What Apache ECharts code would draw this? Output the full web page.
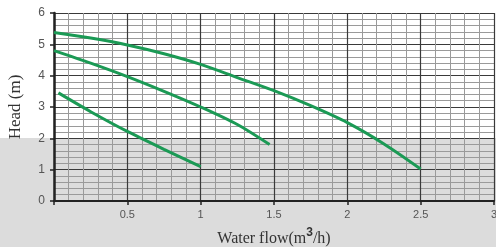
<!DOCTYPE html>
<html><head><meta charset="utf-8">
<script src="https://cdn.jsdelivr.net/npm/echarts@6/dist/echarts.min.js"></script>
<style>
html,body{margin:0;padding:0;}
body{background:linear-gradient(#ffffff 138px,#dcdcdc 138px);}
#c{width:496px;height:247px;}
</style></head><body>
<div id="c"></div>
<script>
const xTicks = [0.5, 1, 1.5, 2, 2.5, 3];
const yTicks = [0, 1, 2, 3, 4, 5, 6];
const curveHigh = [[0, 5.38], [0.25, 5.2], [0.5, 4.98], [0.75, 4.7], [1.0, 4.36], [1.25, 3.94], [1.5, 3.52], [1.75, 3.04], [2.0, 2.5], [2.25, 1.82], [2.5, 1.02]];
const curveMid = [[0, 4.8], [0.25, 4.4], [0.5, 3.97], [0.75, 3.5], [1.0, 3.0], [1.25, 2.44], [1.47, 1.8]];
const curveLow = [[0.03, 3.45], [0.25, 2.85], [0.5, 2.22], [0.75, 1.65], [1.0, 1.1]];

const chart = echarts.init(document.getElementById('c'), null, {renderer: 'canvas'});
const green = '#1b9a55';
function series(d){
  return {type:'line', data:d, smooth:0.3, symbol:'none', lineStyle:{color:green, width:3}, z:5};
}
chart.setOption({
  backgroundColor: 'transparent',
  animation: false,
  grid: {left: 54, right: 2, top: 13, bottom: 46, containLabel: false, outerBoundsMode: 'none'},
  xAxis: {
    type: 'value', min: 0, max: 3, interval: 0.5,
    name: '{a|Water flow(m}{s|3}{a|/h)}', nameLocation: 'middle', nameGap: 26,
    nameTextStyle: {rich: {
      a: {fontFamily: 'Liberation Serif', fontSize: 16, color: '#333', verticalAlign: 'bottom'},
      s: {fontFamily: 'Liberation Sans', fontSize: 12, fontWeight: 'bold', color: '#333', verticalAlign: 'top', padding:[0,0,8,0]}
    }},
    axisLine: {show: true, onZero: false, lineStyle: {color: '#222', width: 2}},
    axisTick: {show: true, length: 4, lineStyle: {color: '#222', width: 1.5}},
    axisLabel: {color: '#555', fontSize: 11, fontFamily: 'Liberation Sans', margin: 8,
      formatter: v => xTicks.includes(v) ? String(v) : ''},
    splitLine: {show: true, lineStyle: {color: '#3a3a3a', width: 1.2}},
    minorTick: {show: true, splitNumber: 5, length: 0},
    minorSplitLine: {show: true, lineStyle: {color: '#9a9a9a', width: 1}}
  },
  yAxis: {
    type: 'value', min: 0, max: 6, interval: 1,
    name: 'Head (m)', nameLocation: 'middle', nameGap: 30,
    nameTextStyle: {fontFamily: 'Liberation Serif', fontSize: 17, color: '#333'},
    axisLine: {show: true, onZero: false, lineStyle: {color: '#222', width: 2.5}},
    axisTick: {show: true, length: 4, lineStyle: {color: '#222', width: 1.5}},
    axisLabel: {color: '#555', fontSize: 12, fontFamily: 'Liberation Sans', margin: 9,
      formatter: v => yTicks.includes(v) ? String(v) : ''},
    splitLine: {show: true, lineStyle: {color: '#3a3a3a', width: 1.2}},
    minorTick: {show: true, splitNumber: 5, length: 0},
    minorSplitLine: {show: true, lineStyle: {color: '#9a9a9a', width: 1}}
  },
  series: [series(curveHigh), series(curveMid), series(curveLow)]
});
</script>
</body></html>
